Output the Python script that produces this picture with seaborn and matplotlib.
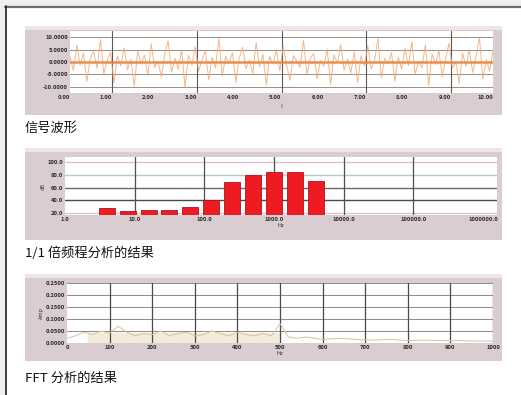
import matplotlib
matplotlib.use("Agg")
import matplotlib.pyplot as plt
import seaborn as sns
import pandas as pd
from matplotlib.patches import Rectangle

# --- data ---
wave_t = [i * 0.08 for i in range(126)]
wave_v = [2.1, -3.4, 6.8, -1.2, 3.5, -7.9, 1.8, 4.2, -2.6, 9.1, -4.8, 0.7, 3.9, -8.6,
          2.4, -1.5, 5.7, -3.1, 1.1, -9.8, 4.6, -0.9, 2.8, -5.4, 7.3, -2.2, 0.4, -6.1,
          3.3, 8.5, -4.1, 1.6, -2.9, 5.1, -10.2, 2.7, -1.3, 6.2, -3.8, 0.9, 4.4, -7.2,
          1.9, -2.4, 9.6, -5.6, 2.3, -0.6, 3.7, -8.1, 1.4, 5.9, -2.7, 0.8, -4.6, 7.8,
          -1.9, 3.1, -9.3, 2.2, -0.8, 4.9, -3.6, 6.5, -1.1, -7.4, 2.6, 0.3, -2.1, 8.8,
          -5.2, 1.7, 3.4, -6.7, 0.6, -1.7, 5.3, -9.1, 2.9, -0.4, 7.1, -3.3, 1.2, -4.4,
          4.1, -8.4, 2.5, -1.6, 6.6, -2.8, 0.5, 9.4, -6.3, 1.5, -0.7, 3.8, -7.6, 2.0,
          -3.0, 5.5, -1.4, 8.2, -4.9, 0.2, -2.3, 6.9, -9.5, 3.2, -1.0, 4.7, -5.9, 1.3,
          7.6, -2.5, 0.1, -8.8, 3.6, -1.8, 5.0, -4.2, 2.4, 9.9, -6.9, 1.0, -3.7, 4.3]

x1_ticks = [0, 1, 2, 3, 4, 5, 6, 7, 8, 9, 10]
x1_labels = ["0.00", "1.00", "2.00", "3.00", "4.00", "5.00", "6.00", "7.00", "8.00", "9.00", "10.00"]
y1_ticks = [10, 5, 0, -5, -10]
y1_labels = ["10.0000", "5.0000", "0.0000", "-5.0000", "-10.0000"]

octave_freq = [4, 8, 16, 31.5, 63, 125, 250, 500, 1000, 2000, 4000]
octave_level = [28, 24, 25, 25, 30, 40, 69, 79, 85, 85, 71]
x2_ticks = [1, 10, 100, 1000, 10000, 100000, 1000000]
x2_labels = ["1.0", "10.0", "100.0", "1000.0", "10000.0", "100000.0", "1000000.0"]
y2_ticks = [100, 80, 60, 40, 20]
y2_labels = ["100.0", "80.0", "60.0", "40.0", "20.0"]

fft_freq = [0, 20, 40, 60, 80, 100, 120, 140, 160, 180, 200, 220, 240, 260, 280, 300,
            320, 340, 360, 380, 400, 420, 440, 460, 480, 500, 520, 540, 560, 580, 600,
            640, 680, 720, 760, 800, 840, 880, 920, 960, 1000]
fft_amp = [0.020, 0.030, 0.045, 0.035, 0.050, 0.040, 0.070, 0.045, 0.030, 0.040, 0.035,
           0.050, 0.030, 0.040, 0.045, 0.030, 0.035, 0.050, 0.040, 0.030, 0.045, 0.035,
           0.030, 0.040, 0.030, 0.080, 0.025, 0.020, 0.025, 0.020, 0.015, 0.020, 0.015,
           0.012, 0.015, 0.010, 0.012, 0.010, 0.010, 0.008, 0.008]
x3_ticks = [0, 100, 200, 300, 400, 500, 600, 700, 800, 900, 1000]
y3_ticks = [0, 0.05, 0.10, 0.15, 0.20, 0.25]
y3_labels = ["0.0000", "0.0500", "0.1000", "0.1500", "0.2000", "0.2500"]

captions = ["信号波形", "1/1 倍频程分析的结果", "FFT 分析的结果"]

W, H = 521, 395
FRAME = "#d9cdd1"
TICK_KW = dict(fontsize=4.2, color="#2a2a2a", fontweight="bold")

sns.set_theme(style="white")
plt.rcParams["font.family"] = ["Noto Sans CJK SC", "DejaVu Sans"]


def rect(x0, y0, x1, y1):
    return [x0 / W, 1 - y1 / H, (x1 - x0) / W, (y1 - y0) / H]


fig = plt.figure(figsize=(W / 100, H / 100), dpi=100)
fig.patch.set_facecolor("white")


def add_bg(x0, y0, x1, y1, color):
    fig.patches.append(Rectangle((x0 / W, 1 - y1 / H), (x1 - x0) / W, (y1 - y0) / H,
                                 transform=fig.transFigure, facecolor=color,
                                 edgecolor="none", zorder=-5))


# page border: light strip on top / left, dark edges
add_bg(0, 0, W, 6, "#efefef")
add_bg(0, 0, 5, H, "#efefef")
fig.lines.append(plt.Line2D([5 / W, 1], [1 - 6.5 / H, 1 - 6.5 / H], transform=fig.transFigure,
                            color="#6e6e6e", lw=1.6, zorder=-4))
fig.lines.append(plt.Line2D([5.5 / W, 5.5 / W], [0, 1 - 6 / H], transform=fig.transFigure,
                            color="#1e1e1e", lw=1.2, zorder=-4))

# panel frames
for (x0, y0, x1, y1) in [(25, 26, 502, 115), (25, 148, 502, 240), (25, 274, 502, 361)]:
    add_bg(x0, y0, x1, y1, FRAME)
    add_bg(x0, y0, x1, y0 + 4, "#ece6e8")


def style_axes(ax):
    ax.set_facecolor("white")
    for s in ax.spines.values():
        s.set_visible(False)
    ax.tick_params(length=0, pad=1.5)


# --- 1: signal waveform ---
ax1 = fig.add_axes(rect(70, 31, 493, 93))
for v in y1_ticks:
    ax1.axhline(v, color="#9a8c86", lw=0.7, zorder=1)
for t in [1, 3, 5, 7, 9]:
    ax1.axvline(t, color="#5a5a5a", lw=0.8, zorder=1)
sns.lineplot(x=wave_t, y=wave_v, ax=ax1, color="#f2a46c", lw=0.7, alpha=0.8, zorder=2)
ax1.axhline(0, color="#f08a40", lw=2.2, alpha=0.7, zorder=3)
ax1.set_xlim(0, 10)
ax1.set_ylim(-12.5, 12.5)
ax1.set_xticks(x1_ticks, x1_labels, **TICK_KW)
ax1.set_yticks(y1_ticks, y1_labels, **TICK_KW)
style_axes(ax1)
for lab in ax1.get_xticklabels():
    lab.set_ha("right")
ax1.set_xlabel("t", fontsize=4, color="#555555", labelpad=3)
ax1.set_ylabel("")

# --- 2: 1/1 octave band ---
ax2 = fig.add_axes(rect(65, 157, 497, 215))
for v, c in zip(y2_ticks, ["#d8c4cc", "#b8c8c8", "#6a6a6a", "#4a4a4a", "#d8c4cc"]):
    ax2.axhline(v, color=c, lw=1.0, zorder=0)
octave = pd.DataFrame({"freq": octave_freq, "level": octave_level})
sns.barplot(data=octave, x="freq", y="level", ax=ax2, native_scale=True, log_scale=(10, False),
            color="#ee1c22", edgecolor="#b01419", linewidth=0.6, width=0.78, saturation=1, zorder=2)
for t in x2_ticks[1:-1]:
    ax2.axvline(t, color="#4e4e4e", lw=0.9, zorder=1)
ax2.set_xlim(1, 10 ** 6.2)
ax2.set_ylim(17, 108)
ax2.set_xticks(x2_ticks, x2_labels, **TICK_KW)
ax2.minorticks_off()
ax2.set_yticks(y2_ticks, y2_labels, **TICK_KW)
style_axes(ax2)
ax2.set_xlabel("Hz", fontsize=4, color="#333333", labelpad=1)
ax2.set_ylabel("dB", fontsize=4, color="#333333", labelpad=1)

# --- 3: FFT ---
ax3 = fig.add_axes(rect(67, 283, 493, 343))
for v in y3_ticks:
    ax3.axhline(v, color="#8a8a8a", lw=0.7, zorder=0)
for t in x3_ticks[1:]:
    ax3.axvline(t, color="#4a4a4a", lw=0.9, zorder=1)
ax3.axhspan(0, 0.04, xmin=0.05, xmax=0.5, color="#f3ead8", zorder=0)
sns.lineplot(x=fft_freq, y=fft_amp, ax=ax3, color="#d2c4a0", lw=0.7, zorder=2)
ax3.set_xlim(0, 1000)
ax3.set_ylim(0, 0.25)
ax3.set_xticks(x3_ticks, [str(t) for t in x3_ticks], **TICK_KW)
ax3.set_yticks(y3_ticks, y3_labels, **TICK_KW)
style_axes(ax3)
ax3.set_xlabel("Hz", fontsize=4, color="#333333", labelpad=1)
ax3.set_ylabel("Amp", fontsize=4, color="#333333", labelpad=1)

# captions
for y, txt in zip([128, 253, 378], captions):
    fig.text(25 / W, 1 - y / H, txt, fontsize=9.5, color="#111111", va="center", ha="left")

fig.savefig("out.png", dpi=100, facecolor=fig.get_facecolor())
